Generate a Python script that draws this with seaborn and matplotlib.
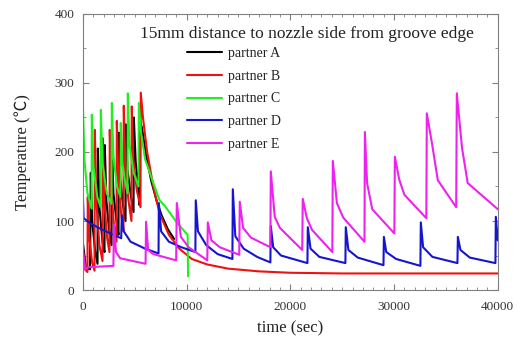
import matplotlib
matplotlib.use("Agg")
import matplotlib.pyplot as plt
import seaborn as sns
import pandas as pd
from matplotlib.ticker import MultipleLocator
from matplotlib.lines import Line2D

# ---------------- data ----------------
partners = ["partner A", "partner B", "partner C", "partner D", "partner E"]
colors = ["#000000", "#ee1111", "#22ee22", "#1515d0", "#ee22ee"]

a_time = [0, 300, 700, 770, 900, 1200, 1420, 1450, 1600, 1900, 2090, 2120, 2270, 2550, 2770,
          2800, 2950, 3250, 3440, 3470, 3620, 3900, 4120, 4150, 4300, 4650, 4890, 4920, 5100,
          5350, 5470, 5500, 5700, 6100, 6600, 7100, 7600, 8200, 8800]
a_temp = [70, 32, 30, 170, 100, 55, 38, 205, 120, 70, 55, 210, 130, 85, 65,
          220, 140, 100, 80, 228, 160, 120, 100, 240, 175, 135, 113, 250, 185,
          150, 123, 245, 235, 195, 158, 130, 108, 88, 74]

b_time = [0, 200, 450, 480, 600, 900, 1130, 1160, 1300, 1600, 1900, 1930, 2070, 2350, 2570,
          2600, 2750, 3000, 3250, 3280, 3430, 3700, 3920, 3950, 4100, 4400, 4690, 4720, 4870,
          5200, 5560, 5590, 5800, 6200, 6800, 7400, 8300, 9300, 10500, 12000, 14000, 17000,
          20000, 25000, 40000]
b_temp = [60, 30, 26, 135, 80, 40, 28, 232, 130, 65, 42, 220, 130, 75, 55,
          232, 145, 95, 70, 245, 160, 110, 85, 267, 180, 130, 100, 266, 190,
          145, 120, 286, 250, 200, 150, 111, 80, 60, 45, 37, 31, 27,
          25, 24, 24]

c_time = [0, 150, 450, 850, 870, 1020, 1400, 1710, 1740, 1900, 2300, 2770, 2800, 2950, 3300,
          3630, 3660, 3800, 4100, 4310, 4340, 4500, 4900, 5370, 5400, 5600, 6000, 6700, 7400,
          7900, 9100, 10100, 10150]
c_temp = [275, 190, 140, 118, 254, 180, 135, 120, 261, 185, 140, 125, 271, 195, 150,
          135, 242, 185, 155, 140, 285, 210, 170, 150, 271, 230, 190, 159, 130,
          122, 97, 80, 20]

d_time = [0, 80, 800, 1800, 2800, 3700, 3760, 3950, 4600, 6000, 7300, 7330, 7550, 8300, 9500,
          10850, 10890, 11100, 11900, 13000, 14420, 14460, 14700, 15500, 16800, 18080, 18120,
          18350, 19100, 21650, 21690, 21950, 22800, 25310, 25350, 25600, 26500, 28980, 29020,
          29250, 30200, 32540, 32580, 32800, 33700, 36110, 36150, 36400, 37300, 39770, 39810,
          40000]
d_temp = [140, 104, 96, 88, 81, 75, 108, 85, 70, 60, 53, 126, 85, 70, 62,
          55, 130, 85, 65, 52, 45, 146, 78, 60, 48, 40, 93,
          62, 50, 39, 91, 60, 48, 39, 91, 58, 47, 36, 77,
          55, 45, 35, 98, 62, 48, 39, 77, 58, 47, 39, 106,
          72]

e_time = [0, 250, 500, 2950, 3000, 3200, 3600, 6050, 6100, 6300, 6800, 9000, 9060, 9450, 10200,
          12000, 12050, 12400, 13200, 15080, 15130, 15450, 16200, 18080, 18120, 18500, 19000,
          21150, 21200, 21600, 22100, 24050, 24100, 24490, 25100, 27150, 27190, 27400, 27900,
          30030, 30080, 30500, 31000, 33110, 33160, 33650, 34220, 35990, 36050, 36550, 37100,
          40000]
e_temp = [58, 30, 33, 35, 95, 55, 46, 38, 99, 58, 52, 43, 126, 77, 62,
          43, 98, 72, 62, 51, 128, 90, 76, 62, 172, 106, 90,
          58, 132, 104, 87, 55, 187, 126, 105, 70, 229, 155, 117,
          82, 193, 160, 138, 104, 256, 213, 159, 120, 285, 206, 155,
          117]

series = {
    "partner A": (a_time, a_temp),
    "partner B": (b_time, b_temp),
    "partner C": (c_time, c_temp),
    "partner D": (d_time, d_temp),
    "partner E": (e_time, e_temp),
}

x_ticks = [0, 10000, 20000, 30000, 40000]
y_ticks = [0, 100, 200, 300, 400]
title_text = "15mm distance to nozzle side from groove edge"

# ---------------- plotting ----------------
sns.set_style("ticks")
plt.rcParams["font.family"] = ["Liberation Serif", "Noto Sans CJK SC", "DejaVu Sans"]

frames = []
for name in partners:
    t, v = series[name]
    frames.append(pd.DataFrame({"time": t, "temp": v, "partner": name}))
df = pd.concat(frames, ignore_index=True)

fig = plt.figure(figsize=(5.24, 3.4), dpi=100)
ax = fig.add_axes([0.158, 0.147, 0.792, 0.812])

palette = dict(zip(partners, colors))
sns.lineplot(data=df, x="time", y="temp", hue="partner", hue_order=partners,
             palette=palette, sort=False, estimator=None, linewidth=1.5,
             legend=False, ax=ax)

ax.set_xlim(0, 40000)
ax.set_ylim(0, 400)
ax.set_xticks(x_ticks)
ax.set_yticks(y_ticks)
ax.set_xticklabels([str(v) for v in x_ticks])
ax.set_yticklabels([str(v) for v in y_ticks])
ax.xaxis.set_minor_locator(MultipleLocator(1000))
ax.yaxis.set_minor_locator(MultipleLocator(50))
ax.tick_params(which="both", direction="in", top=True, right=True, color="#808080")
ax.tick_params(which="major", length=4, width=0.8, labelsize=9.5, labelcolor="#333333")
ax.tick_params(which="minor", length=2, width=0.6)
ax.tick_params(axis="x", which="major", pad=8)
ax.tick_params(axis="y", which="major", pad=6)
for sp in ax.spines.values():
    sp.set_color("#808080")
    sp.set_linewidth(0.8)

ax.set_xlabel("time (sec)", fontsize=12, color="#222222", labelpad=5)
ax.set_ylabel("Temperature (℃)", fontsize=12, color="#222222", labelpad=17)

ax.text(0.539, 0.927, title_text, transform=ax.transAxes, ha="center", va="center",
        fontsize=12.5, color="#222222")

handles = [Line2D([0], [0], color=c, lw=1.5) for c in colors]
leg = ax.legend(handles, partners, loc="upper left",
                bbox_to_anchor=((187 - 83) / 415, (290 - 47) / 276),
                frameon=False, fontsize=10, borderpad=0, borderaxespad=0,
                handlelength=2.5, handletextpad=0.45, labelspacing=0.7)
for txt in leg.get_texts():
    txt.set_color("#222222")

fig.savefig("out.png", dpi=100)
